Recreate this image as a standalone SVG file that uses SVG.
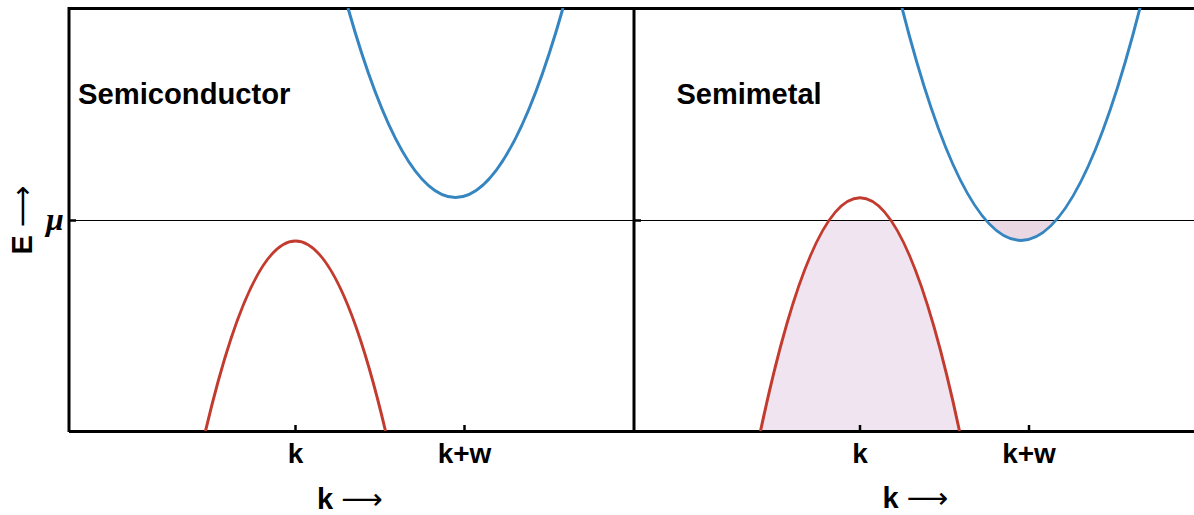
<svg xmlns="http://www.w3.org/2000/svg" width="1194" height="515" viewBox="0 0 1194 515">
<style>
.frame{stroke:#000;stroke-width:3;fill:none}
.mu{stroke:#000;stroke-width:1;fill:none}
.tick{stroke:#000;stroke-width:2.5;fill:none}
.blue{stroke:#3585c0;stroke-width:3;fill:none}
.red{stroke:#c23b2e;stroke-width:3;fill:none}
.lbl{font-family:"Liberation Sans",Arial,sans-serif;font-weight:bold;fill:#000}
.arr{font-family:"DejaVu Sans","Liberation Sans",sans-serif;font-weight:normal}
</style>
<defs>
<clipPath id="below"><rect x="634" y="220" width="560" height="211"/></clipPath>
<clipPath id="plotL"><rect x="70" y="8" width="564" height="423"/></clipPath>
<clipPath id="plotR"><rect x="634" y="8" width="560" height="423"/></clipPath>
</defs>
<rect width="1194" height="515" fill="#fff"/>
<g id="fills">
<path d="M760.5,431 Q860,-35.5 959.5,431 Z" fill="#f1e4f1" clip-path="url(#below)"/>
<path d="M902,8 Q1021,473 1140,8 Z" fill="#e9d8e3" clip-path="url(#below)"/>
</g>
<g id="frame">
<line class="mu" x1="70" y1="220.5" x2="1194" y2="220.5"/>
<line class="frame" x1="69" y1="8.5" x2="1194" y2="8.5"/>
<line class="frame" x1="69" y1="7" x2="69" y2="432"/>
<line class="frame" x1="634" y1="7" x2="634" y2="432"/>
<line class="frame" x1="69" y1="431.5" x2="1194" y2="431.5"/>
<line class="tick" x1="69" y1="220.5" x2="76" y2="220.5"/>
<line class="tick" x1="634" y1="220.5" x2="641" y2="220.5"/>
<line class="tick" x1="295.5" y1="431" x2="295.5" y2="425"/>
<line class="tick" x1="464.5" y1="431" x2="464.5" y2="425"/>
<line class="tick" x1="860" y1="431" x2="860" y2="425"/>
<line class="tick" x1="1029" y1="431" x2="1029" y2="425"/>
</g>
<g id="curves">
<path class="blue" d="M348,8 Q455.5,387 563,8" clip-path="url(#plotL)"/>
<path class="red" d="M205.5,431 Q295.5,51 385.5,431" clip-path="url(#plotL)"/>
<path class="red" d="M760.5,431 Q860,-35.5 959.5,431" clip-path="url(#plotR)"/>
<path class="blue" d="M902,8 Q1021,473 1140,8" clip-path="url(#plotR)"/>
</g>
<g id="labels">
<text class="lbl" x="78" y="103.5" font-size="29.2">Semiconductor</text>
<text class="lbl" x="676.5" y="103.5" font-size="29">Semimetal</text>
<text class="lbl" x="295.5" y="463" font-size="28" text-anchor="middle">k</text>
<text class="lbl" x="464.5" y="463" font-size="28" text-anchor="middle">k+w</text>
<text class="lbl" x="860" y="463" font-size="28" text-anchor="middle">k</text>
<text class="lbl" x="1029" y="463" font-size="28" text-anchor="middle">k+w</text>
<text class="lbl" x="350" y="509" font-size="29" text-anchor="middle">k <tspan class="arr">⟶</tspan></text>
<text class="lbl" x="915.5" y="508" font-size="29" text-anchor="middle">k <tspan class="arr">⟶</tspan></text>
<text class="lbl" transform="translate(32,220) rotate(-90)" font-size="29" text-anchor="middle">E <tspan class="arr">⟶</tspan></text>
<text x="55" y="230" font-family="Liberation Serif,serif" font-style="italic" font-weight="bold" font-size="32" text-anchor="middle">μ</text>
</g>
</svg>
